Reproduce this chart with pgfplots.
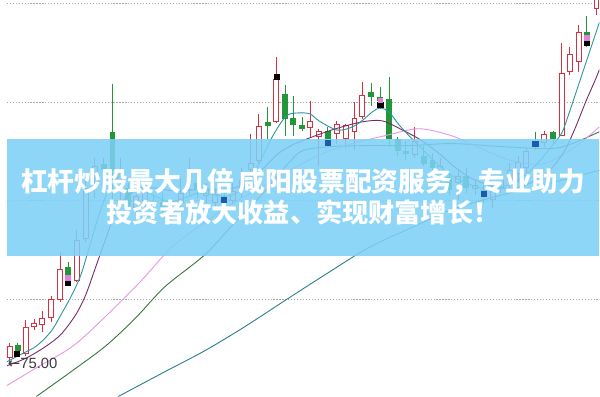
\documentclass[border=0pt]{standalone}
\usepackage{pgfplots}
\pgfplotsset{compat=1.18}
\usepackage{pgfplotstable}
\usepackage{fontspec}
\setmainfont{Liberation Sans}
\newfontfamily\cjk{Noto Sans CJK SC}
\newfontfamily\dejavu{DejaVu Sans}
\definecolor{upred}{RGB}{212,50,64}
\definecolor{dngreen}{RGB}{34,150,56}
\definecolor{maA}{RGB}{40,150,155}
\definecolor{maB}{RGB}{118,44,104}
\definecolor{maC}{RGB}{232,150,232}
\definecolor{maD}{RGB}{52,118,62}
\definecolor{maE}{RGB}{40,125,145}
\definecolor{banner}{RGB}{126,208,246}
\definecolor{mkblue}{RGB}{30,90,170}
\definecolor{mkpink}{RGB}{226,130,214}
\definecolor{lbl}{RGB}{60,60,60}

% pixel-scale readings: x position, high, low, body top, body bottom
\pgfplotstableread{
x hi lo top bot
3 347 366 350 362
19 324 360 331 358
28 323 334 327 331
36 315 336 322 329
45 299 326 302 322
54 255 305 272 303
71 233 285 243 284
80 180 245 190 242
89 160 200 168 178
115 160 203 176 182
131 190 215 198 210
140 185 210 193 203
167 205 225 210 218
176 180 210 195 205
185 160 197 183 192
202 185 205 190 198
211 190 212 196 205
229 185 205 193 203
238 170 200 182 190
247 135 180 165 172
255 115 165 127 163
273 57 124 80 123
307 102 138 122 129
316 130 168 132 138
334 122 145 125 135
343 125 150 126 140
352 103 152 119 133
360 83 120 96 118
413 128 160 142 157
439 160 182 168 176
457 172 202 178 185
474 182 197 187 191
492 187 210 193 202
500 172 195 178 190
509 165 190 172 182
518 158 185 164 176
526 150 185 153 170
544 132 148 135 144
562 43 137 74 137
570 47 76 54 73
579 25 73 32 62
597 -5 15 -2 9
}\up
\pgfplotstableread{
x hi lo top bot
11 347 360 349 355
62 265 282 270 280
98 160 185 166 172
107 85 203 133 172
123 185 212 190 208
149 198 212 203 207
158 195 218 204 212
193 178 200 185 192
220 192 210 198 203
264 108 140 123 127
282 86 137 95 120
290 97 137 119 126
299 118 132 126 130
325 128 140 132 140
369 84 107 93 98
378 88 110 98 102
387 78 147 100 140
396 138 158 140 153
404 142 162 153 156
422 147 168 158 166
431 155 175 162 170
448 175 197 179 192
465 170 195 178 190
483 185 205 192 198
535 133 152 142 148
553 132 145 133 140
587 16 47 32 37
}\down

\begin{document}
\begin{tikzpicture}
\begin{axis}[
  width=600pt, height=401pt, scale only axis,
  xmin=0, xmax=600, ymin=0, ymax=401, y dir=reverse,
  axis line style={draw=none},
  xtick=\empty, ytick={3,103,202.5,303}, yticklabels={},
  major tick length=0pt,
  ymajorgrids,
  grid style={gray!70, line width=1.1pt, dash pattern=on 1.2pt off 1.8pt},
  axis background/.style={fill=white},
  clip=true,
  candle/.style={draw=none, no markers, forget plot, error bars/y dir=both, error bars/y explicit, error bars/error mark=none},
]
% wicks
\addplot[candle, error bars/error bar style={draw=upred, line width=1pt}]
  table[x=x, y expr={(\thisrow{hi}+\thisrow{lo})/2}, y error expr={(\thisrow{lo}-\thisrow{hi})/2}] {\up};
\addplot[candle, error bars/error bar style={draw=dngreen, line width=1pt}]
  table[x=x, y expr={(\thisrow{hi}+\thisrow{lo})/2}, y error expr={(\thisrow{lo}-\thisrow{hi})/2}] {\down};
% bodies
\addplot[candle, error bars/error bar style={draw=upred, line width=6pt}]
  table[x=x, y expr={(\thisrow{top}+\thisrow{bot})/2}, y error expr={(\thisrow{bot}-\thisrow{top})/2}] {\up};
\addplot[candle, error bars/error bar style={draw=white, line width=4pt}]
  table[x=x, y expr={(\thisrow{top}+\thisrow{bot})/2}, y error expr={(\thisrow{bot}-\thisrow{top})/2-1}] {\up};
\addplot[candle, error bars/error bar style={draw=dngreen, line width=6pt}]
  table[x=x, y expr={(\thisrow{top}+\thisrow{bot})/2}, y error expr={(\thisrow{bot}-\thisrow{top})/2}] {\down};

% moving averages
\addplot[maE, line width=0.9pt, smooth] coordinates {(113,401) (160,376) (200,355) (240,331) (283,303) (325,276) (367,250) (410,230) (450,212) (490,200) (530,190) (570,180) (600,172)};
\addplot[maD, line width=0.9pt, smooth] coordinates {(30,401) (65,376) (100,350) (130,322) (160,290) (200,258) (230,226) (260,195) (285,165) (300,152) (330,148) (370,147) (410,147) (450,145) (500,148) (540,150) (560,149) (580,142) (600,133)};
\addplot[maC, line width=0.9pt, smooth] coordinates {(0,390) (30,372) (67,350) (100,320) (135,285) (167,250) (200,225) (230,205) (260,188) (290,170) (320,155) (350,145) (383,137) (417,130) (450,137) (480,150) (510,162) (540,166) (560,158) (580,145) (600,128)};
\addplot[maB, line width=0.9pt, smooth] coordinates {(0,370) (20,362) (40,350) (55,338) (70,318) (80,298) (90,270) (100,242) (110,215) (120,200) (135,190) (150,190) (170,193) (190,192) (210,192) (230,190) (245,184) (260,170) (275,155) (290,146) (310,138) (333,130) (360,123) (380,122) (400,131) (420,142) (440,157) (455,170) (470,180) (485,186) (500,190) (515,190) (530,185) (545,176) (556,165) (566,150) (576,128) (586,103) (596,80) (600,70)};
\addplot[maA, line width=0.9pt, smooth] coordinates {(0,366) (15,358) (30,350) (45,335) (55,318) (65,300) (75,278) (85,245) (95,212) (105,188) (115,178) (125,182) (135,190) (150,198) (165,204) (180,200) (195,195) (210,197) (225,198) (240,190) (250,176) (260,156) (270,136) (283,117) (295,114) (307,115) (316,122) (333,131) (345,130) (357,124) (370,113) (378,109) (387,113) (397,126) (410,140) (420,150) (435,165) (450,177) (465,185) (480,190) (495,190) (510,186) (525,177) (540,162) (553,146) (562,134) (570,112) (580,82) (590,52) (600,22)};

% signal markers
\addplot[only marks, mark=square*, mark size=2.6pt, color=black] coordinates {(10,358) (62,286) (273,77) (378,106) (587,43)};
\addplot[only marks, mark=square*, mark size=2.4pt, color=mkpink] coordinates {(62,281) (378,101) (587,38)};
\addplot[only marks, mark=square*, mark size=2.6pt, color=mkblue] coordinates {(325,144) (220,202) (483,196) (535,145)};

% price label
\node[anchor=west, inner sep=0pt, text=lbl, font=\fontsize{15}{15}\selectfont] at (axis cs:1,368) {{\dejavu ←}75.00};

% banner
\fill[banner, opacity=0.87] (axis cs:0,140) rectangle (axis cs:600,259);
\node[text=white, inner sep=0pt, font={\fontsize{27}{30}\selectfont\cjk\bfseries}] at (axis cs:300,184) {杠杆炒股最大几倍\hspace{4pt}咸阳股票配资服务，专业助力};
\node[text=white, inner sep=0pt, font={\fontsize{26.5}{30}\selectfont\cjk\bfseries}] at (axis cs:300,215) {投资者放大收益、实现财富增长！};
\end{axis}
\end{tikzpicture}
\end{document}
